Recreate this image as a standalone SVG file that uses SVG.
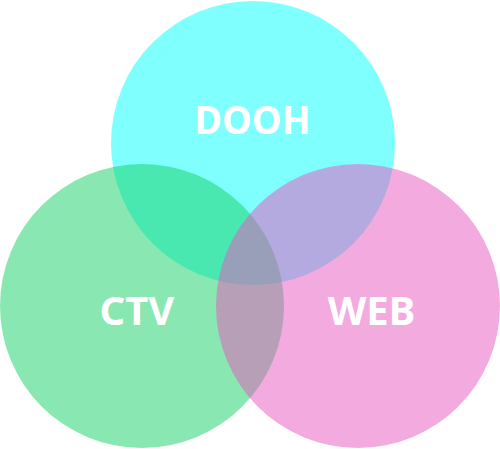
<svg xmlns="http://www.w3.org/2000/svg" width="500" height="449" viewBox="0 0 500 449">
<style>
.lbl{font-family:"Noto Sans","Open Sans","DejaVu Sans",sans-serif;font-weight:bold;font-size:40px;fill:#ffffff;text-anchor:middle}
</style>
<rect width="500" height="449" fill="#ffffff"/>
<g id="dooh">
<circle cx="253" cy="143" r="142" fill="#80ffff"/>
</g>
<g id="ctv">
<circle cx="142" cy="306" r="142" fill="#14d264" fill-opacity="0.5"/>
</g>
<g id="web">
<circle cx="358" cy="306" r="142" fill="#e755bf" fill-opacity="0.5"/>
</g>
<g id="labels">
<text class="lbl" x="252.5" y="134" textLength="116" lengthAdjust="spacingAndGlyphs">DOOH</text>
<text class="lbl" x="137" y="325">CTV</text>
<text class="lbl" x="371.5" y="325">WEB</text>
</g>
<g id="connectors"/>
</svg>
